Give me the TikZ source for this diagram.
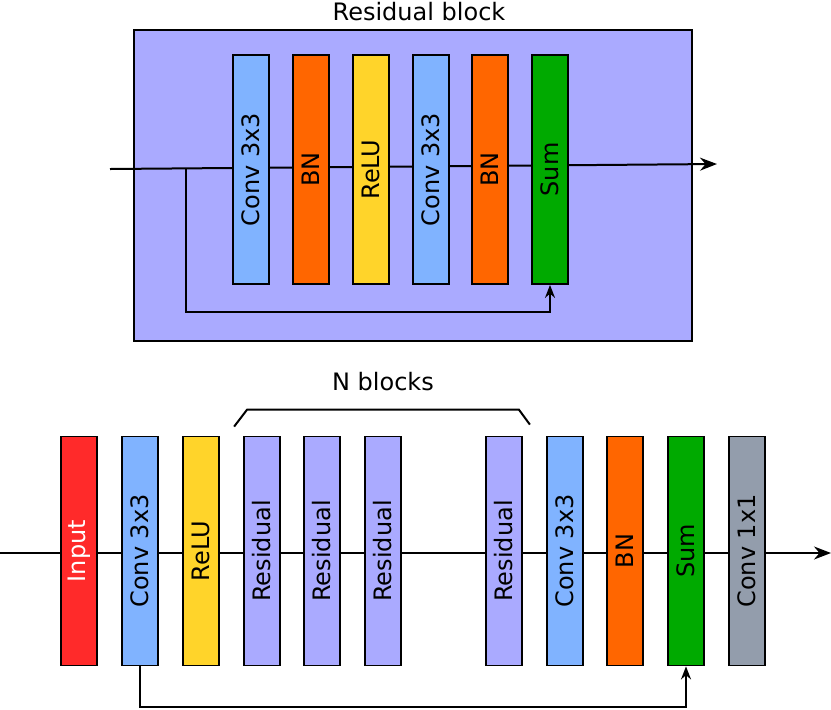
\documentclass[tikz,border=0pt]{standalone}
\usepackage{fontspec}
\setmainfont{DejaVu Sans}
\usepackage{tikz}
\usetikzlibrary{arrows.meta, calc}
\definecolor{convcol}{HTML}{80B3FF}
\definecolor{bncol}{HTML}{FF6600}
\definecolor{relucol}{HTML}{FFD42A}
\definecolor{sumcol}{HTML}{00AA00}
\definecolor{rescol}{HTML}{AAAAFF}
\definecolor{inputcol}{HTML}{FF2A2A}
\definecolor{onecol}{HTML}{939DAC}
\tikzset{
  layer/.style={draw, line width=0.9pt, inner sep=0pt, minimum width=18pt, minimum height=114.5pt, font=\fontsize{12}{14}\selectfont},
  flow/.style={line width=1pt, -{Stealth[length=8.5pt, width=6.5pt]}},
  skip/.style={line width=1pt, -{Stealth[length=6.5pt, width=5pt]}}
}
\newcommand{\vtext}[1]{\rotatebox{90}{#1}}

\begin{document}
\begin{tikzpicture}[x=0.5pt, y=-0.5pt]
\useasboundingbox (0,0) rectangle (831,709);

\node[draw, line width=1pt, fill=rescol, minimum width=279pt, minimum height=155.5pt] (rbox) at (413,185.5) {};
\node[font=\fontsize{12}{14}\selectfont] (rtitle) at (419,12) {Residual block};

\coordinate (rin) at (110,169);
\coordinate (rout) at (717,164);
\draw[flow] (rin) -- (rout);

\node[layer, fill=convcol] (rconva) at (251,169.5) {\vtext{Conv 3x3}};
\node[layer, fill=bncol] (rbna) at (311,169.5) {\vtext{BN}};
\node[layer, fill=relucol] (rrelu) at (371,169.5) {\vtext{ReLU}};
\node[layer, fill=convcol] (rconvb) at (431,169.5) {\vtext{Conv 3x3}};
\node[layer, fill=bncol] (rbnb) at (490,169.5) {\vtext{BN}};
\node[layer, fill=sumcol] (rsum) at (550,169.5) {\vtext{Sum}};

\coordinate (rtap) at ($(rin)!0.125!(rout)$);
\draw[skip] (rtap) |- (186,312) -| (rsum.south);

\coordinate (nin) at (0,553);
\coordinate (nout) at (831,553);
\draw[flow] (nin) -- (nout);

\node[layer, fill=inputcol, text=white] (input) at (79,551) {\vtext{Input}};
\node[layer, fill=convcol] (conva) at (140,551) {\vtext{Conv 3x3}};
\node[layer, fill=relucol] (relu) at (201,551) {\vtext{ReLU}};
\node[layer, fill=rescol] (resa) at (262,551) {\vtext{Residual}};
\node[layer, fill=rescol] (resb) at (322,551) {\vtext{Residual}};
\node[layer, fill=rescol] (resc) at (383,551) {\vtext{Residual}};
\node[layer, fill=rescol] (resn) at (504,551) {\vtext{Residual}};
\node[layer, fill=convcol] (convb) at (565,551) {\vtext{Conv 3x3}};
\node[layer, fill=bncol] (bn) at (625,551) {\vtext{BN}};
\node[layer, fill=sumcol] (sum) at (686,551) {\vtext{Sum}};
\node[layer, fill=onecol] (convc) at (747,551) {\vtext{Conv 1x1}};

\draw[skip] (conva.south) -- ++(0,41) -| (sum.south);

\draw[line width=1pt] ($(resa.north west)+(-9,-9)$) -- ++(13,-17) -- ($(resn.north east)+(-4,-26)$) -- ++(11,15);
\node[font=\fontsize{12}{14}\selectfont] (nlabel) at (383,382) {N blocks};

\end{tikzpicture}
\end{document}
